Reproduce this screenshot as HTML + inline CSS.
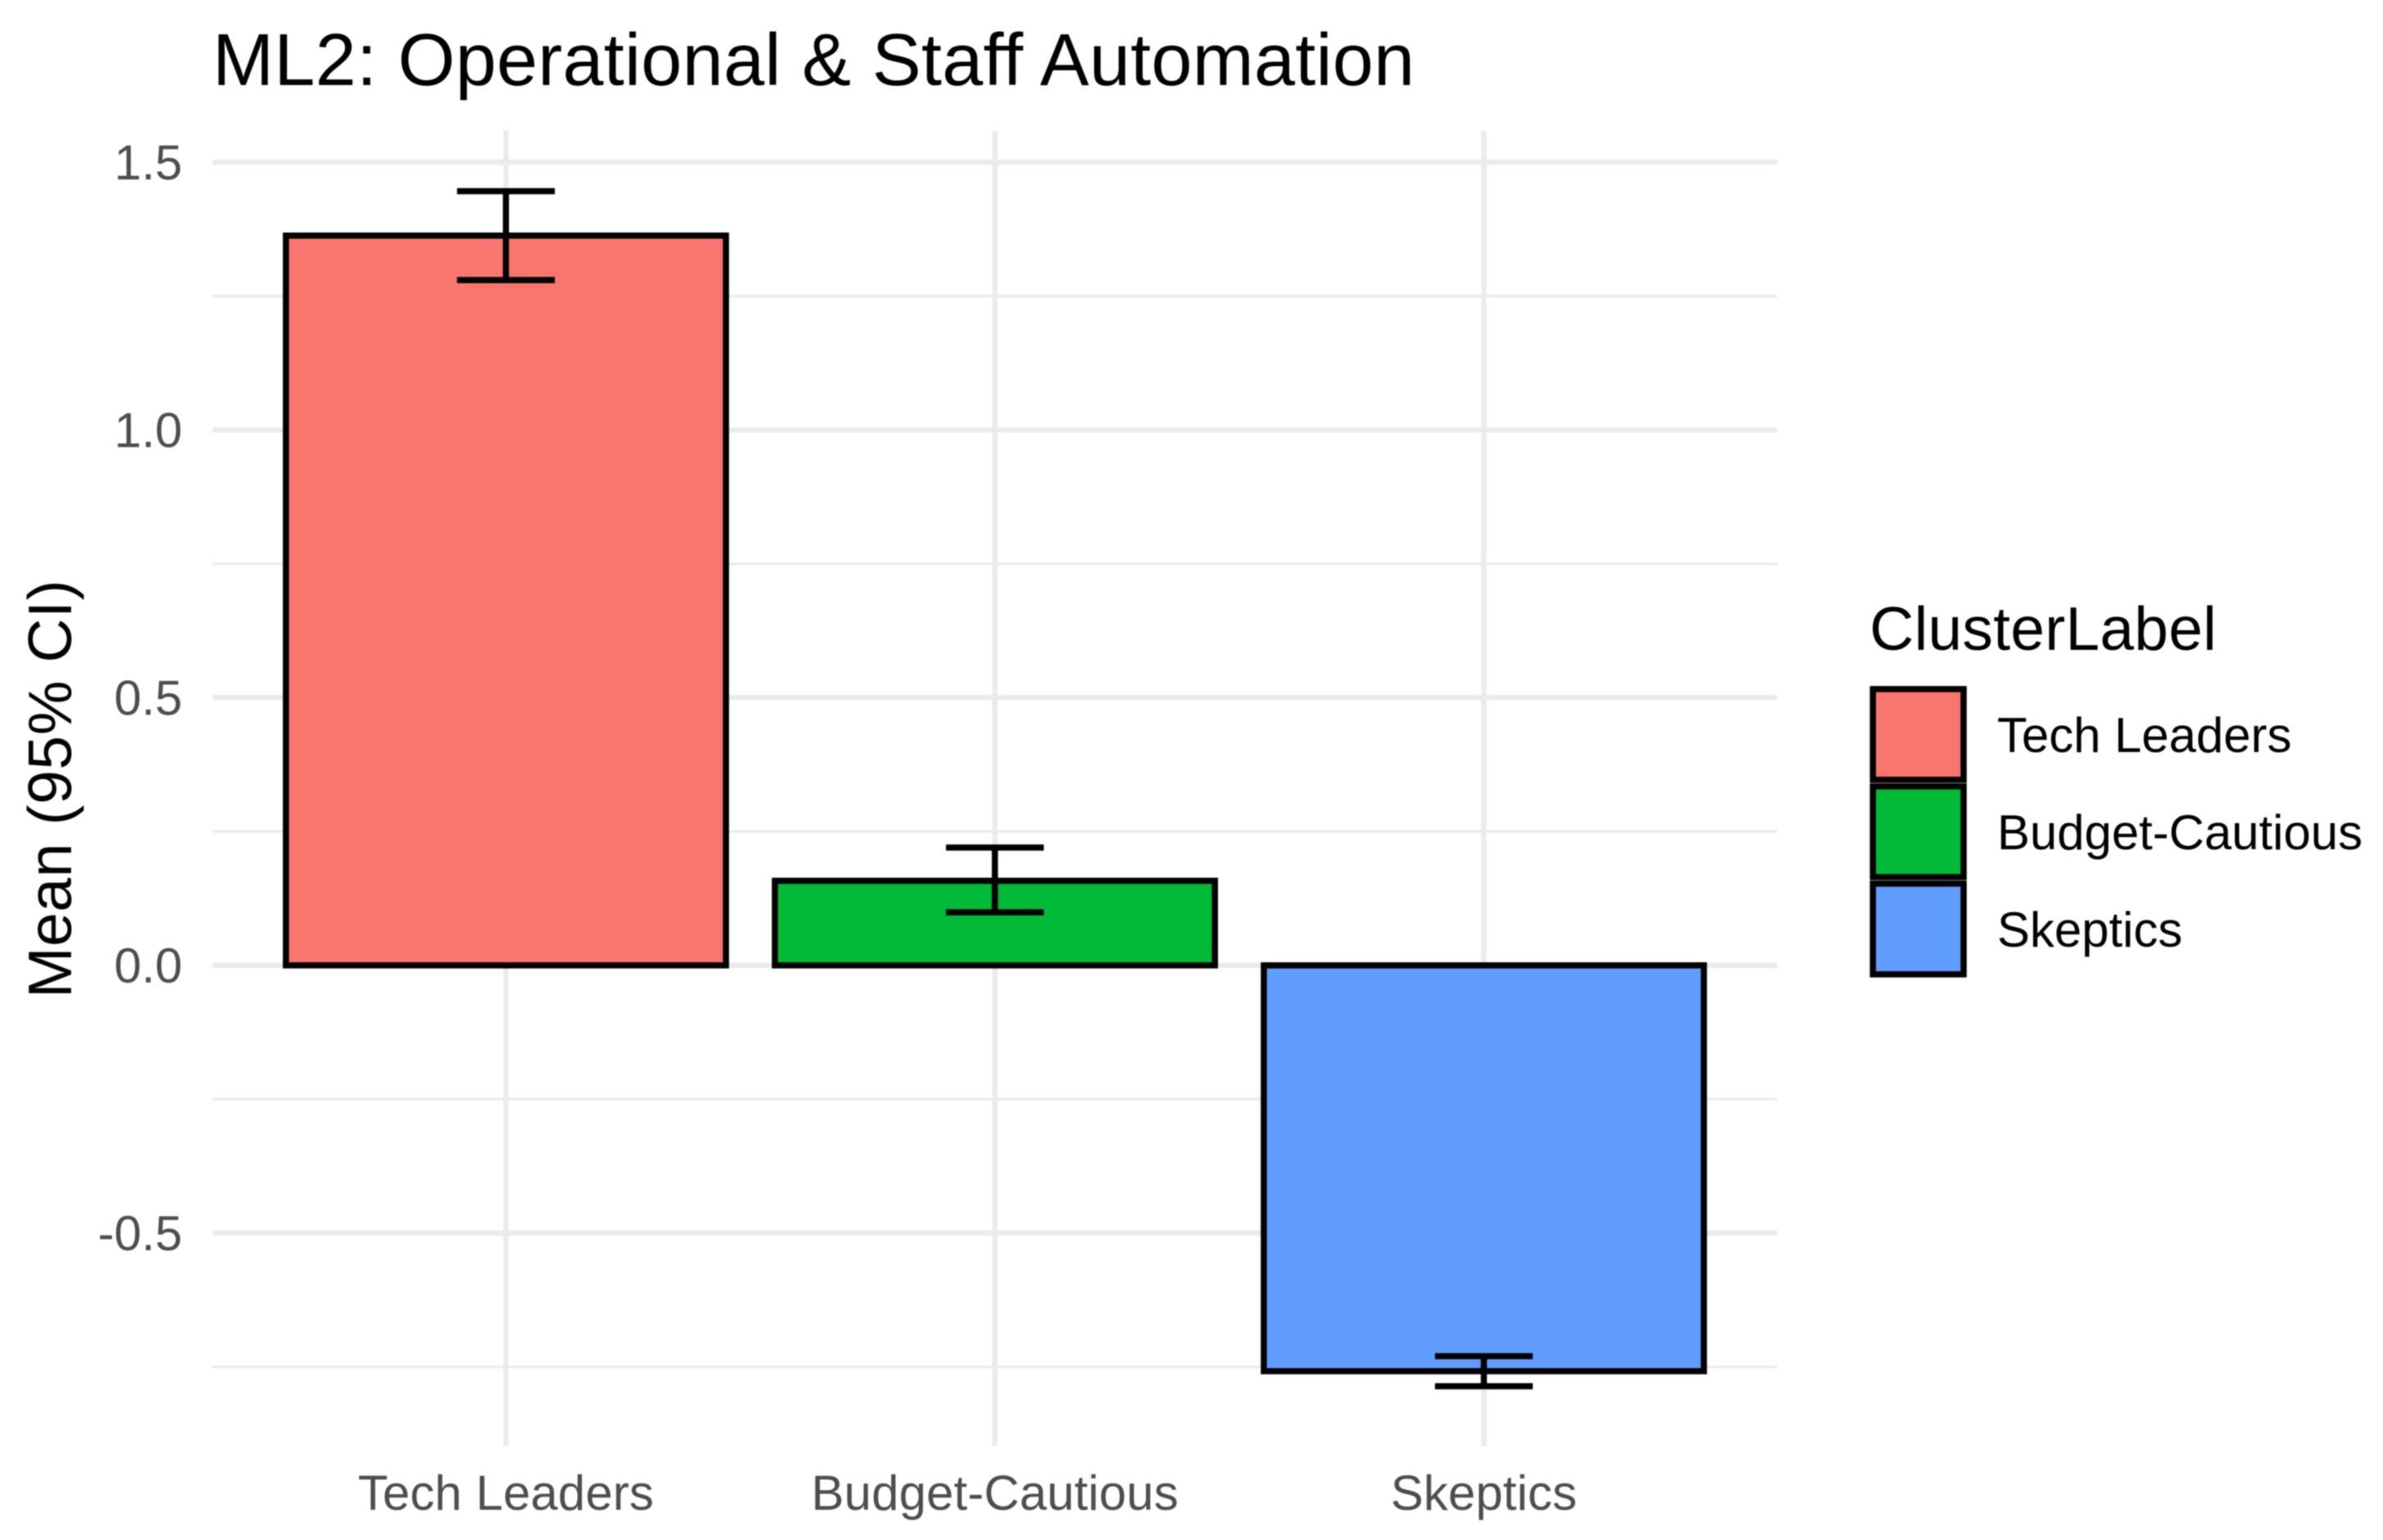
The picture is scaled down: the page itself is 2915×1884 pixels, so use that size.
<!DOCTYPE html>
<html lang="en">
<head>
<meta charset="utf-8">
<title>ML2: Operational &amp; Staff Automation</title>
<style>
  html, body { margin: 0; padding: 0; background: #ffffff; }
  body { width: 2915px; height: 1884px; overflow: hidden; }
  svg { display: block; font-family: "Liberation Sans", Arial, sans-serif; filter: blur(0.8px); }
</style>
</head>
<body>
<svg id="chart" xmlns="http://www.w3.org/2000/svg" width="2915" height="1884" viewBox="0 0 2915 1884">
  <rect x="0" y="0" width="2915" height="1884" fill="#ffffff"/>
  <g id="grid"></g>
  <g id="bars"></g>
  <g id="errors"></g>
  <g id="yticks" font-size="60" fill="#4d4d4d" text-anchor="end"></g>
  <g id="xticks" font-size="60" fill="#4d4d4d" text-anchor="middle" letter-spacing="0.15"></g>
  <text x="260" y="104" font-size="90" letter-spacing="0.33" fill="#000000">ML2: Operational &amp; Staff Automation</text>
  <text transform="translate(87 965) rotate(-90)" font-size="75" letter-spacing="0.6" fill="#000000" text-anchor="middle">Mean (95% CI)</text>
  <text x="2287" y="795" font-size="75" letter-spacing="0.3" fill="#000000">ClusterLabel</text>
  <g id="legend"></g>
</svg>
<script>
const categories = ["Tech Leaders", "Budget-Cautious", "Skeptics"];
const means = [1.363, 0.158, -0.758];
const ciLower = [1.28, 0.099, -0.786];
const ciUpper = [1.446, 0.22, -0.73];
const colors = ["#F8766D", "#00BA38", "#619CFF"];
const yMajorTicks = [-0.5, 0, 0.5, 1, 1.5];
const yMinorTicks = [-0.75, -0.25, 0.25, 0.75, 1.25];
const yTickLabels = ["-0.5", "0.0", "0.5", "1.0", "1.5"];

const NS = "http://www.w3.org/2000/svg";
const panel = { left: 260, right: 2174, top: 160, bottom: 1769 };
const xUnit = (panel.right - panel.left) / 3.2;
const yUnit = 655;
const yZero = 1181;
const barWidth = 0.9;
const capWidth = 0.2;
const markStroke = 7.5;

function xScale(position) { return panel.left + (position + 0.6) * xUnit; }
function yScale(value) { return yZero - value * yUnit; }

function make(tag, parent, attrs) {
  const el = document.createElementNS(NS, tag);
  for (const key in attrs) el.setAttribute(key, attrs[key]);
  parent.appendChild(el);
  return el;
}

const grid = document.getElementById("grid");
const bars = document.getElementById("bars");
const errors = document.getElementById("errors");
const yticks = document.getElementById("yticks");
const xticks = document.getElementById("xticks");
const legend = document.getElementById("legend");

yMinorTicks.forEach(function (v) {
  const el = make("line", grid, { x1: panel.left, x2: panel.right, y1: yScale(v), y2: yScale(v), stroke: "#ebebeb", "stroke-width": 3.3 });
  
  
});

yMajorTicks.forEach(function (v, i) {
  const el = make("line", grid, { x1: panel.left, x2: panel.right, y1: yScale(v), y2: yScale(v), stroke: "#ebebeb", "stroke-width": 6.5 });
  
  
  const label = make("text", yticks, { x: 223, y: yScale(v) + 21 });
  label.textContent = yTickLabels[i];
  
  
});

categories.forEach(function (name, i) {
  const cx = xScale(i);
  const gridline = make("line", grid, { x1: cx, x2: cx, y1: panel.top, y2: panel.bottom, stroke: "#ebebeb", "stroke-width": 6.5 });
  
  

  const half = barWidth / 2;
  const left = xScale(i - half);
  const right = xScale(i + half);
  const top = yScale(Math.max(means[i], 0));
  const bottom = yScale(Math.min(means[i], 0));
  const bar = make("rect", bars, { x: left, y: top, width: right - left, height: bottom - top, fill: colors[i], stroke: "#000000", "stroke-width": markStroke });
  
  

  const capLeft = xScale(i - capWidth / 2);
  const capRight = xScale(i + capWidth / 2);
  const stem = make("line", errors, { x1: cx, x2: cx, y1: yScale(ciUpper[i]), y2: yScale(ciLower[i]), stroke: "#000000", "stroke-width": markStroke });
  
  
  const capUpper = make("line", errors, { x1: capLeft, x2: capRight, y1: yScale(ciUpper[i]), y2: yScale(ciUpper[i]), stroke: "#000000", "stroke-width": markStroke });
  
  
  const capLower = make("line", errors, { x1: capLeft, x2: capRight, y1: yScale(ciLower[i]), y2: yScale(ciLower[i]), stroke: "#000000", "stroke-width": markStroke });
  
  

  const tick = make("text", xticks, { x: cx, y: 1847 });
  tick.textContent = name;
  
  

  const keyTop = 843 + i * 119;
  const swatch = make("rect", legend, { x: 2291, y: keyTop, width: 111, height: 111, fill: colors[i], stroke: "#000000", "stroke-width": markStroke });
  
  
  const keyLabel = make("text", legend, { x: 2443, y: keyTop + 77, "font-size": 60, fill: "#000000" });
  keyLabel.textContent = name;
  
  
});
</script>
</body>
</html>
